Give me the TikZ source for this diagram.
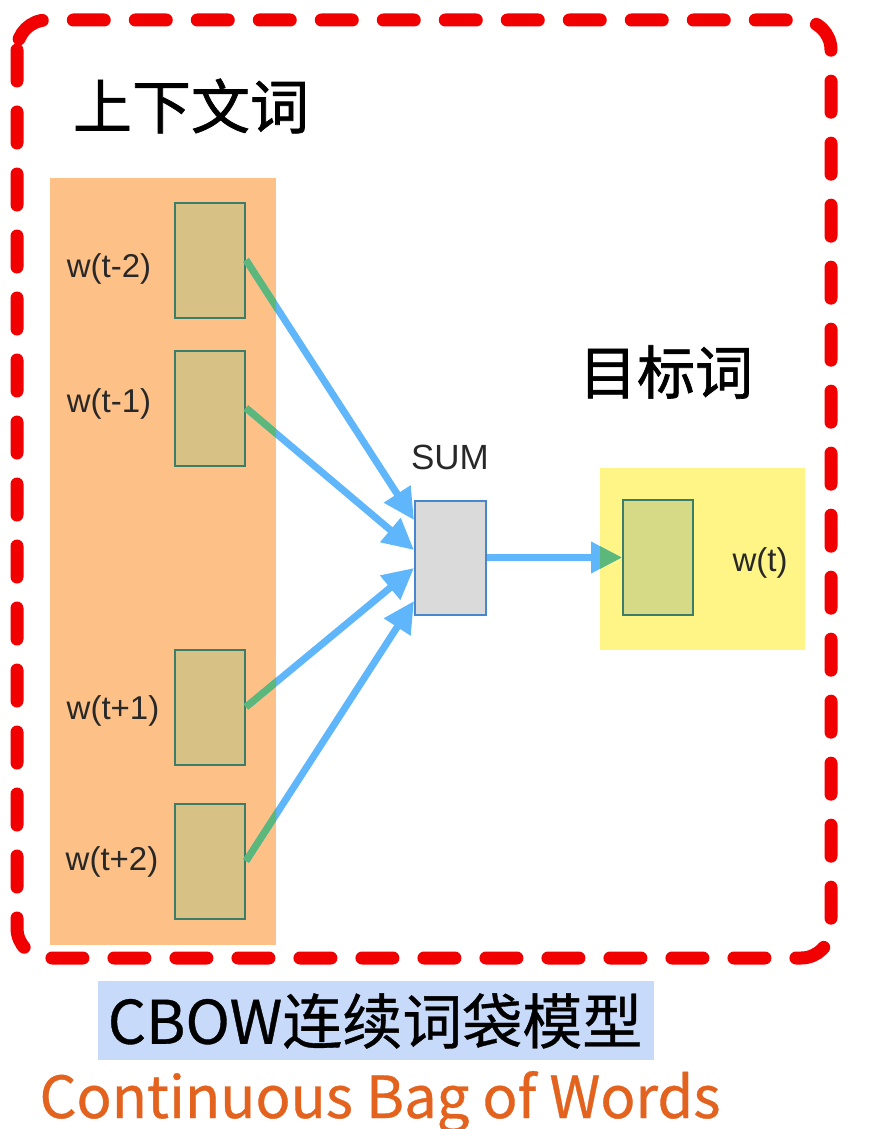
\documentclass[tikz,border=0pt]{standalone}
\usepackage{fontspec}
\setmainfont{Liberation Sans}
\newfontfamily\cjk{Noto Sans CJK SC}
\newfontfamily\cjkbold{Noto Sans CJK SC}[FakeBold=1.2]
\newfontfamily\cjkmed{Noto Sans CJK SC}[FakeBold=0.6]
\usetikzlibrary{arrows.meta}
\definecolor{frame}{RGB}{240,0,0}
\definecolor{ctxbg}{RGB}{253,192,135}
\definecolor{tgtbg}{RGB}{255,245,135}
\definecolor{wordfill}{RGB}{216,193,133}
\definecolor{tgtfill}{RGB}{214,217,133}
\definecolor{boxline}{RGB}{60,125,105}
\definecolor{sumfill}{RGB}{218,218,218}
\definecolor{sumline}{RGB}{70,135,205}
\definecolor{arrowblue}{RGB}{95,182,250}
\definecolor{arrowgreen}{RGB}{92,184,122}
\definecolor{capbg}{RGB}{200,218,250}
\definecolor{caporange}{RGB}{226,98,30}
\definecolor{labelgrey}{RGB}{40,40,40}
\begin{document}
\begin{tikzpicture}[x=1pt,y=-1pt,
  wordbox/.style={draw=boxline, line width=2pt, fill=wordfill, minimum width=70pt, minimum height=115pt, inner sep=0pt},
  tgtbox/.style={wordbox, fill=tgtfill},
  sumbox/.style={draw=sumline, line width=2pt, fill=sumfill, minimum width=71pt, minimum height=114pt, inner sep=0pt},
  wlabel/.style={font=\fontsize{33}{35}\selectfont, text=labelgrey, inner sep=0pt},
  heading/.style={font=\cjkbold\fontsize{59}{62}\selectfont, text=black, inner sep=0pt},
  conn/.style={arrowblue, line width=7pt, -{Triangle[length=31pt,width=30pt]}},
  conng/.style={arrowgreen, line width=7pt, -{Triangle[length=31pt,width=30pt]}}
]
\useasboundingbox (0,0) rectangle (881,1129);
\fill[white] (0,0) rectangle (881,1129);

% backgrounds
\fill[ctxbg] (50,178) rectangle (276,945);
\fill[tgtbg] (600,468) rectangle (805,650);

% dashed frame
\draw[frame, line width=13pt, line cap=round, dash pattern=on 31pt off 31pt, rounded corners=30pt] (17,20) rectangle (831,958);

% headings
\node[heading] (ctxh) at (191,106) {上下文词};
\node[heading, font=\cjkbold\fontsize{58}{60}\selectfont] (tgth) at (666,372) {目标词};

% word boxes
\node[wordbox] (w1) at (210,260) {};
\node[wordbox] (w2) at (210,408) {};
\node[wordbox] (w3) at (210,707) {};
\node[wordbox] (w4) at (210,861) {};
\node[wlabel] (l1) at (109,269) {w(t-2)};
\node[wlabel] (l2) at (109,404) {w(t-1)};
\node[wlabel] (l3) at (113,711) {w(t+1)};
\node[wlabel] (l4) at (112,862) {w(t+2)};

% sum box
\node[sumbox] (sum) at (450.5,557.5) {};
\node[wlabel, font=\fontsize{35}{37}\selectfont] (suml) at (450,457) {SUM};

% target
\node[tgtbox] (tgt) at (658,557.5) {};
\node[wlabel] (tl) at (760,563) {w(t)};

% anchor points on sum box
\coordinate (s1) at (414,520);
\coordinate (s2) at (414,550);
\coordinate (s3) at (414,568);
\coordinate (s4) at (414,601);

\draw[conn] (w1.east) -- (s1);
\draw[conn] (w2.east) -- (s2);
\draw[conn] (w3.east) -- (s3);
\draw[conn] (w4.east) -- (s4);
\draw[conn] (sum.east) -- (tgt.west);

\begin{scope}
\clip (50,178) rectangle (276,945);
\draw[conng] (w1.east) -- (s1);
\draw[conng] (w2.east) -- (s2);
\draw[conng] (w3.east) -- (s3);
\draw[conng] (w4.east) -- (s4);
\end{scope}
\begin{scope}
\clip (600,468) rectangle (805,650);
\draw[conng] (sum.east) -- (tgt.west);
\end{scope}

% captions
\fill[capbg] (98,981) rectangle (654,1060);
\node[font=\cjkmed\fontsize{60}{62}\selectfont, text=black, inner sep=0pt] (cap) at (375,1021) {CBOW连续词袋模型};
\node[font=\cjkmed\fontsize{58}{60}\selectfont, text=caporange, inner sep=0pt, anchor=base] (eng) at (380,1118) {Continuous Bag of Words};
\end{tikzpicture}
\end{document}
